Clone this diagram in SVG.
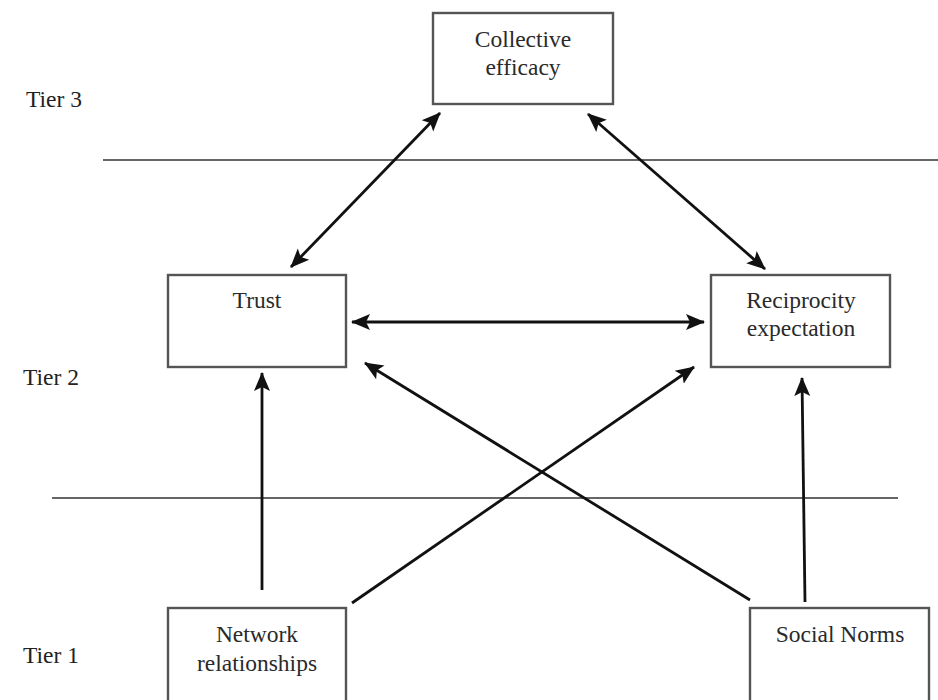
<svg xmlns="http://www.w3.org/2000/svg" width="938" height="700" viewBox="0 0 938 700">
<style>
.box{fill:#fff;stroke:#555;stroke-width:2.4}
.t{font-family:"Liberation Serif","Times New Roman",serif;font-size:23.5px;fill:#2a2a2a;text-anchor:middle}
.tier{font-family:"Liberation Serif","Times New Roman",serif;font-size:23.5px;fill:#222}
.div{stroke:#666;stroke-width:2}
.c{stroke:#111;stroke-width:2.8;fill:none}
</style>
<defs>
<marker id="ah" markerUnits="userSpaceOnUse" markerWidth="22" markerHeight="22" viewBox="0 0 22 22" refX="18" refY="11" orient="auto-start-reverse">
<path d="M0,3 L19,11 L0,19 L4,11 Z" fill="#111"/>
</marker>
</defs>
<rect width="938" height="700" fill="#fff"/>
<g id="dividers">
<line class="div" x1="103" y1="160" x2="938" y2="160"/>
<line class="div" x1="52" y1="498" x2="898" y2="498"/>
</g>
<g id="tiers">
<text class="tier" x="26" y="107">Tier 3</text>
<text class="tier" x="23" y="385">Tier 2</text>
<text class="tier" x="23" y="663">Tier 1</text>
</g>
<g id="connectors">
<line class="c" x1="291" y1="267" x2="440" y2="113" marker-start="url(#ah)" marker-end="url(#ah)"/>
<line class="c" x1="765" y1="269" x2="588" y2="114" marker-start="url(#ah)" marker-end="url(#ah)"/>
<line class="c" x1="352" y1="322" x2="704" y2="322" marker-start="url(#ah)" marker-end="url(#ah)"/>
<line class="c" x1="262" y1="590" x2="262" y2="373" marker-end="url(#ah)"/>
<line class="c" x1="805" y1="602" x2="802" y2="378" marker-end="url(#ah)"/>
<line class="c" x1="352" y1="603" x2="694" y2="367" marker-end="url(#ah)"/>
<line class="c" x1="750" y1="600" x2="365" y2="363" marker-end="url(#ah)"/>
</g>
<g id="collective">
<rect class="box" x="433" y="13" width="180" height="91"/>
<text class="t" x="523" y="47">Collective</text>
<text class="t" x="523" y="75">efficacy</text>
</g>
<g id="trust">
<rect class="box" x="168" y="275" width="178" height="92"/>
<text class="t" x="257" y="308">Trust</text>
</g>
<g id="reciprocity">
<rect class="box" x="711" y="275" width="179" height="92"/>
<text class="t" x="801" y="308">Reciprocity</text>
<text class="t" x="801" y="336">expectation</text>
</g>
<g id="network">
<rect class="box" x="168" y="608" width="178" height="100"/>
<text class="t" x="257" y="642">Network</text>
<text class="t" x="257" y="671">relationships</text>
</g>
<g id="social">
<rect class="box" x="750" y="608" width="179" height="100"/>
<text class="t" x="840" y="642">Social Norms</text>
</g>
</svg>
